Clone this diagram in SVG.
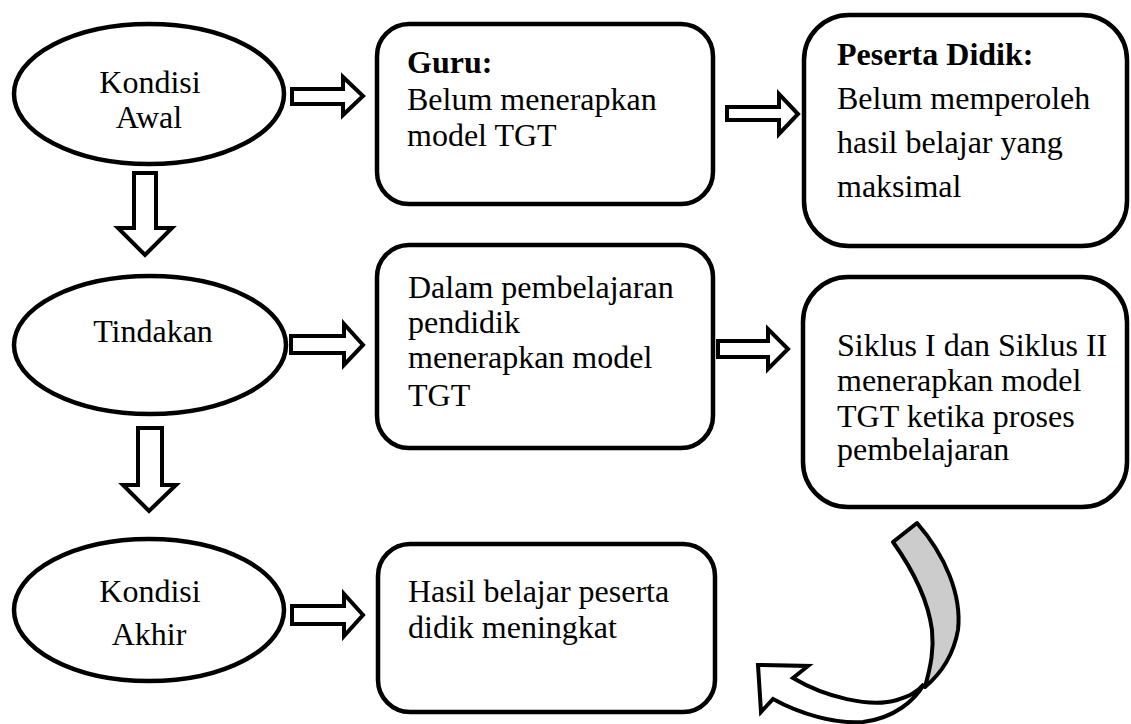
<svg xmlns="http://www.w3.org/2000/svg" width="1131" height="724" viewBox="0 0 1131 724">
<style>
.shape{fill:#ffffff;stroke:#000000;stroke-width:4.5}
.arr{fill:#ffffff;stroke:#000000;stroke-width:4;stroke-linejoin:miter}
.t{font-family:"Liberation Serif","Times New Roman",serif;font-size:32px;fill:#000000}
.c{text-anchor:middle}
.b{font-weight:bold}
</style>
<rect width="1131" height="724" fill="#ffffff"/>
<g id="kondisi-awal">
<ellipse class="shape" cx="149" cy="94" rx="135" ry="70"/>
<text class="t c" x="150" y="93">Kondisi</text>
<text class="t c" x="149" y="128">Awal</text>
</g>
<g id="tindakan">
<ellipse class="shape" cx="150" cy="345" rx="136" ry="69"/>
<text class="t c" x="153" y="342">Tindakan</text>
</g>
<g id="kondisi-akhir">
<ellipse class="shape" cx="149" cy="610" rx="135" ry="71"/>
<text class="t c" x="150" y="602">Kondisi</text>
<text class="t c" x="149" y="645">Akhir</text>
</g>
<g id="guru">
<rect class="shape" x="377" y="24" width="336" height="180" rx="32"/>
<text class="t b" x="407" y="73">Guru:</text>
<text class="t" x="407" y="110">Belum menerapkan</text>
<text class="t" x="407" y="146">model TGT</text>
</g>
<g id="peserta-didik">
<rect class="shape" x="804" y="15" width="323" height="231" rx="45"/>
<text class="t b" x="837" y="65">Peserta Didik:</text>
<text class="t" x="837" y="109">Belum memperoleh</text>
<text class="t" x="837" y="153">hasil belajar yang</text>
<text class="t" x="837" y="197">maksimal</text>
</g>
<g id="dalam-pembelajaran">
<rect class="shape" x="377" y="245" width="336" height="203" rx="32"/>
<text class="t" x="408" y="298">Dalam pembelajaran</text>
<text class="t" x="408" y="333">pendidik</text>
<text class="t" x="408" y="368">menerapkan model</text>
<text class="t" x="408" y="406">TGT</text>
</g>
<g id="siklus">
<rect class="shape" x="803" y="277" width="324" height="230" rx="45"/>
<text class="t" x="837" y="356">Siklus I dan Siklus II</text>
<text class="t" x="837" y="391">menerapkan model</text>
<text class="t" x="837" y="427">TGT ketika proses</text>
<text class="t" x="837" y="460">pembelajaran</text>
</g>
<g id="hasil">
<rect class="shape" x="378" y="544" width="337" height="168" rx="32"/>
<text class="t" x="408" y="602">Hasil belajar peserta</text>
<text class="t" x="408" y="638">didik meningkat</text>
</g>
<g id="connectors">
<path class="arr" d="M292,89 H343 V77 L363,96 L343,115 V104 H292 Z"/>
<path class="arr" d="M727,107 H779 V94 L798,114 L779,134 V120 H727 Z"/>
<path class="arr" d="M291,336 H344 V324 L363,345 L344,365 V353 H291 Z"/>
<path class="arr" d="M718,341 H768 V329 L788,349 L768,369 V357 H718 Z"/>
<path class="arr" d="M292,606 H344 V594 L363,615 L344,636 V624 H292 Z"/>
<path class="arr" d="M134,173 H156 V228 H172 L145,255 L118,228 H134 Z"/>
<path class="arr" d="M138,428 H162 V485 H176 L149,511 L123,485 H138 Z"/>
<path fill="#cccccc" stroke="#000000" stroke-width="4" stroke-linejoin="round" d="M893,542 L917,523 C945,555 962,595 958,630 C954,652 943,672 925,687 C931,665 934,650 932,630 C928,600 913,570 893,542 Z"/>
<path class="arr" stroke-linejoin="round" d="M793,678 C825,697 870,708 897,700 C910,696 917,692 924,684 C915,700 895,718 863,722 C835,724 800,714 773,699 L761,712 L758,665 L808,666 Z"/>
</g>
</svg>
